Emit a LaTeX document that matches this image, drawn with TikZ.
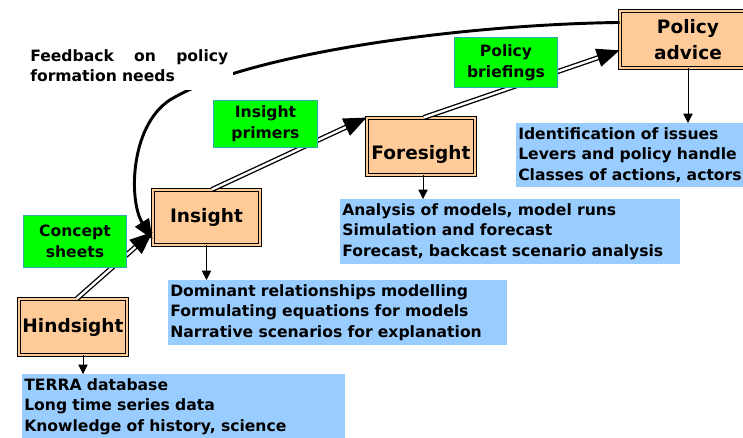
\documentclass[tikz,border=0pt]{standalone}
\usepackage{fontspec}
\setmainfont{DejaVu Sans}
\usetikzlibrary{arrows.meta}
\definecolor{peach}{RGB}{255,204,153}
\definecolor{skyblue}{RGB}{153,204,255}
\definecolor{lime}{RGB}{0,255,0}
\definecolor{sheetedge}{RGB}{51,170,170}
\def\smallbf{\fontsize{11.7}{15.5}\selectfont\bfseries}
\def\bigbf{\fontsize{13.9}{19.5}\selectfont\bfseries}
\tikzset{
	stage/.style={draw=black, line width=0.9pt, double=peach, double distance=1.4pt, fill=peach, font=\bigbf, align=center, inner sep=0pt},
	sheet/.style={draw=sheetedge, line width=0.8pt, fill=lime, font=\smallbf, align=center, inner sep=0pt},
	notes/.style={fill=skyblue, font=\smallbf, align=left, anchor=north west, inner xsep=1.5pt, inner ysep=3pt},
	flow/.style={draw, line width=1pt, double=white, double distance=1.8pt, -{Triangle[length=17pt,width=14pt]}},
	drop/.style={draw, line width=0.6pt, -{Triangle[length=7pt,width=7pt]}},
	loopback/.style={draw, line width=2.2pt, -{Triangle[length=15pt,width=12pt]}}
}

\begin{document}
\begin{tikzpicture}[x=0.75pt, y=-0.75pt]
		%%%%% START %%%%%
		\useasboundingbox (0, 0) rectangle (743, 437);
		
		% stages
		\node[stage, minimum width=80.8pt, minimum height=41.8pt] (hind) at (73, 327) {Hindsight};
		\node[stage, minimum width=80pt, minimum height=41pt] (ins) at (206.5, 217.5) {Insight};
		\node[stage, minimum width=80.8pt, minimum height=42.5pt, text height=20pt, text depth=0pt] (fore) at (421, 146.5) {Foresight};
		\node[stage, minimum width=101.8pt, minimum height=42.5pt] (pol) at (688, 39.5) {Policy\\advice};
		
		% what each stage holds
		\node[notes, text width=239pt] (tb1) at (22, 374) {TERRA database\\Long time series data\\Knowledge of history, science};
		\node[notes, text width=251pt] (tb2) at (168, 280) {Dominant relationships modelling\\Formulating equations for models\\Narrative scenarios for explanation};
		\node[notes, text width=252pt] (tb3) at (340, 199) {Analysis of models, model runs\\Simulation and forecast\\Forecast, backcast scenario analysis};
		\node[notes, text width=170pt] (tb4) at (516, 123) {Identification of issues\\Levers and policy handle\\Classes of actions, actors};
		
		\draw[drop] ([xshift=7.5pt]hind.south) -- ([xshift=7.5pt]hind.south |- tb1.north);
		\draw[drop] (ins.south) -- (ins.south |- tb2.north);
		\draw[drop] ([xshift=1.5pt]fore.south) -- ([xshift=1.5pt]fore.south |- tb3.north);
		\draw[drop] (pol.south) -- (pol.south |- tb4.north);
		
		% stage to stage
		\draw[flow] ([xshift=3pt]hind.north) -- (ins.195);
		\draw[flow] ([xshift=4pt]ins.north) -- (fore.north west);
		\draw[flow] ([xshift=2pt]fore.north) -- (pol.189);
		
		\node[sheet, minimum width=77.2pt, minimum height=39pt] (cs) at (75, 241.5) {Concept\\sheets};
		\node[sheet, minimum width=78pt, minimum height=35.2pt] (ip) at (265.5, 124) {Insight\\primers};
		\node[sheet, minimum width=77.2pt, minimum height=37.5pt] (pb) at (506, 62.5) {Policy\\briefings};
		
		% feedback
		\draw[loopback] (pol.166) .. controls (450, 25) and (250, 55) .. (175, 97) .. controls (130, 120) and (128, 200) .. (ins.202);
		\node[fill=white, font=\smallbf, align=left, anchor=north west, text width=148.5pt, inner xsep=3.75pt, inner ysep=6pt] (fb) at (25, 41) {Feedback \hfill on \hfill policy\\formation needs};
		
		%%%%% END %%%%%
\end{tikzpicture}
\end{document}
